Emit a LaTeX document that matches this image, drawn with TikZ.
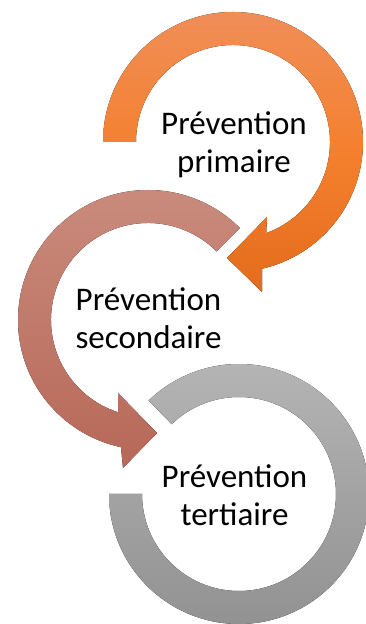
\documentclass[tikz,border=0pt]{standalone}
\usepackage{fontspec}
\setmainfont{Carlito}
\definecolor{PrimTop}{RGB}{240,142,88}
\definecolor{PrimMid}{RGB}{244,128,46}
\definecolor{PrimBot}{RGB}{228,108,28}
\definecolor{SecTop}{RGB}{202,140,126}
\definecolor{SecBot}{RGB}{183,104,88}
\definecolor{TerTop}{RGB}{180,180,180}
\definecolor{TerBot}{RGB}{146,146,146}
\usetikzlibrary{calc}
\tikzset{
  ringprim/.style={top color=PrimTop,bottom color=PrimBot,middle color=PrimMid},
  ringsec/.style={top color=SecTop,bottom color=SecBot},
  ringter/.style={top color=TerTop,bottom color=TerBot},
  lbl/.style={align=center,inner sep=0pt,font=\fontsize{33}{38}\selectfont},
}
\begin{document}
\begin{tikzpicture}[x=1pt,y=1pt]
    \useasboundingbox (0,0) rectangle (365,624);
    \coordinate (c1) at (233,482);
    \coordinate (c2) at (148,304);
    \coordinate (c3) at (239,130);
    % tertiaire (no head)
    \fill[ringter,shift={(c3)}] (180:130) arc[start angle=180,end angle=494,radius=130]
      -- (494:97) arc[start angle=494,end angle=180,radius=97] -- cycle;
    % secondaire
    \fill[ringsec,shift={(c2)}] (45:130) arc[start angle=45,end angle=258,radius=130]
      -- (-25,-148) -- (9,-113) -- (-30,-73) -- (252:97)
      arc[start angle=252,end angle=45,radius=97] -- cycle;
    % primaire
    \fill[ringprim,shift={(c1)}] (180:130) arc[start angle=180,end angle=-77,radius=130]
      -- (29,-150) -- (-6,-116) -- (34,-75) -- (-70:97)
      arc[start angle=-70,end angle=180,radius=97] -- cycle;
    \node[lbl] (prim) at (234,479) {Prévention\\primaire};
    \node[lbl] (sec) at (148.5,306) {Prévention\\secondaire};
    \node[lbl] (ter) at (234.5,128.5) {Prévention\\tertiaire};
\end{tikzpicture}
\end{document}
